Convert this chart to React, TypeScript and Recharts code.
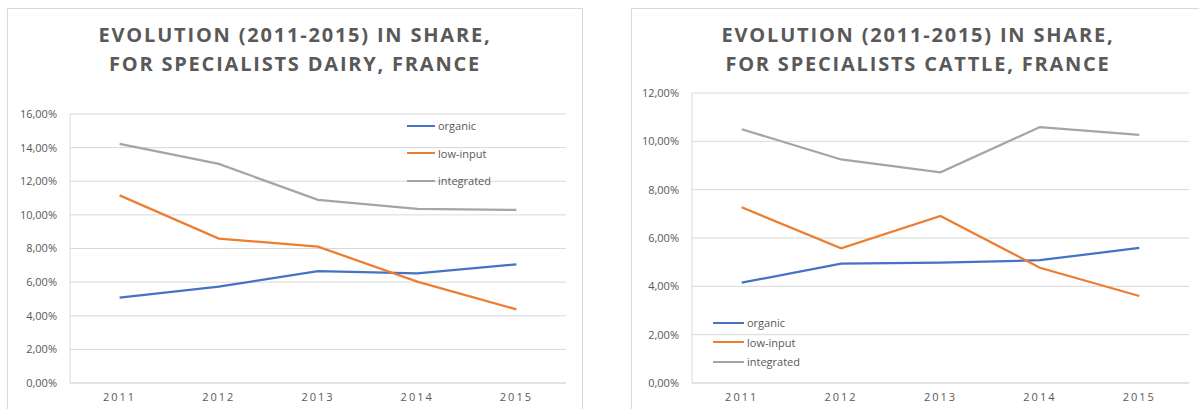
import { CartesianGrid, Line, LineChart, XAxis, YAxis } from "recharts"

const years = ["2011", "2012", "2013", "2014", "2015"]

// dairy specialists (share in %)
const dairyOrganic = [5.08, 5.73, 6.66, 6.52, 7.06]
const dairyLowInput = [11.16, 8.59, 8.11, 6.03, 4.38]
const dairyIntegrated = [14.22, 13.03, 10.89, 10.35, 10.29]

// cattle specialists (share in %)
const cattleOrganic = [4.15, 4.94, 4.98, 5.08, 5.59]
const cattleLowInput = [7.27, 5.57, 6.91, 4.77, 3.6]
const cattleIntegrated = [10.5, 9.25, 8.72, 10.59, 10.27]

const dairyTicks = [0, 2, 4, 6, 8, 10, 12, 14, 16]
const cattleTicks = [0, 2, 4, 6, 8, 10, 12]

const seriesNames = ["organic", "low-input", "integrated"]
const colors = ["#4472C4", "#ED7D31", "#A5A5A5"]

const textColor = "#595959"
const gridColor = "#D9D9D9"
const font = "'Open Sans', sans-serif"

function buildRows(a: number[], b: number[], c: number[]) {
  return years.map((y, i) => ({ year: y, organic: a[i], "low-input": b[i], integrated: c[i] }))
}

const pct = (v: number) => v.toFixed(2).replace(".", ",") + "%"

function LegendBox({ left, top, lineW, rowH }: { left: number; top: number; lineW: number; rowH: number }) {
  return (
    <div style={{ position: "absolute", left, top, fontFamily: font, fontSize: 11, color: textColor }}>
      {seriesNames.map((n, i) => (
        <div key={n} style={{ display: "flex", alignItems: "center", height: rowH }}>
          <div style={{ width: lineW, height: 2, background: colors[i], marginRight: 3 }} />
          <span>{n}</span>
        </div>
      ))}
    </div>
  )
}

interface PanelProps {
  left: number
  width: number
  top: number
  yAxisW: number
  right: number
  pad: number
  max: number
  ticks: number[]
  data: ReturnType<typeof buildRows>
}

function Panel(p: PanelProps) {
  return (
    <div style={{ position: "absolute", left: p.left, top: 0 }}>
      <LineChart width={p.width} height={409} data={p.data} margin={{ top: p.top, right: p.right, bottom: 0, left: 0 }}>
        <CartesianGrid vertical={false} stroke={gridColor} />
        <XAxis
          dataKey="year"
          height={26}
          padding={{ left: p.pad, right: p.pad }}
          axisLine={{ stroke: gridColor }}
          tickLine={false}
          tickSize={0}
          tickMargin={10}
          tick={{ fill: textColor, fontSize: 11, fontFamily: font, letterSpacing: 2 }}
        />
        <YAxis
          width={p.yAxisW}
          domain={[0, p.max]}
          ticks={p.ticks}
          tickFormatter={pct}
          axisLine={{ stroke: gridColor }}
          tickLine={false}
          tickSize={0}
          tickMargin={13}
          tick={{ fill: textColor, fontSize: 11, fontFamily: font }}
        />
        {seriesNames.map((n, i) => (
          <Line
            key={n}
            type="linear"
            dataKey={n}
            stroke={colors[i]}
            strokeWidth={2.25}
            dot={false}
            isAnimationActive={false}
          />
        ))}
      </LineChart>
    </div>
  )
}

function Title({ left, width, lines }: { left: number; width: number; lines: string[] }) {
  return (
    <div
      style={{
        position: "absolute",
        left,
        top: 20,
        width,
        textAlign: "center",
        fontFamily: font,
        fontWeight: 700,
        fontSize: 20,
        lineHeight: "29px",
        letterSpacing: 1.8,
        color: textColor,
      }}
    >
      {lines.map((l) => (
        <div key={l}>{l}</div>
      ))}
    </div>
  )
}

export default function App() {
  return (
    <div style={{ position: "absolute", left: 0, top: 0, width: 1199, height: 409, overflow: "hidden", background: "#fff" }}>
      <div style={{ position: "absolute", left: 7, top: 8, width: 576, height: 420, border: `1px solid ${gridColor}`, boxSizing: "border-box" }} />
      <div style={{ position: "absolute", left: 631, top: 8, width: 600, height: 420, border: `1px solid ${gridColor}`, boxSizing: "border-box" }} />
      <Title left={7} width={576} lines={["EVOLUTION (2011-2015) IN SHARE,", "FOR SPECIALISTS DAIRY, FRANCE"]} />
      <Title left={631} width={574} lines={["EVOLUTION (2011-2015) IN SHARE,", "FOR SPECIALISTS CATTLE, FRANCE"]} />
      <Panel
        left={0}
        width={590}
        top={114}
        yAxisW={70}
        right={24}
        pad={49.6}
        max={16}
        ticks={dairyTicks}
        data={buildRows(dairyOrganic, dairyLowInput, dairyIntegrated)}
      />
      <Panel
        left={610}
        width={589}
        top={93}
        yAxisW={82}
        right={10}
        pad={49.7}
        max={12}
        ticks={cattleTicks}
        data={buildRows(cattleOrganic, cattleLowInput, cattleIntegrated)}
      />
      <LegendBox left={407} top={112} lineW={28} rowH={27.5} />
      <LegendBox left={713} top={313} lineW={31} rowH={19.5} />
    </div>
  )
}
